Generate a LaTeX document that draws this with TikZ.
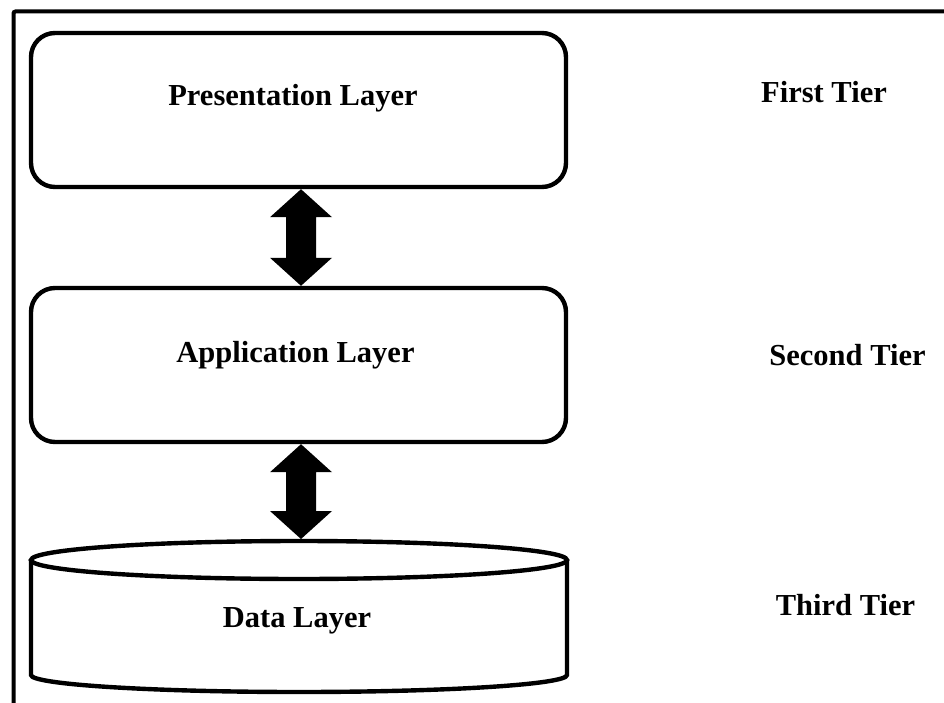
\documentclass[tikz,border=0pt]{standalone}
\usepackage{fontspec}
\setmainfont{Liberation Serif}
\usetikzlibrary{calc}
\tikzset{
  ln/.style={line width=4.4pt},
  layerbox/.style={ln, draw, rounded corners=24pt, minimum width=535pt, minimum height=154pt, inner sep=0pt},
  lbl/.style={font=\bfseries\fontsize{30.5}{36}\selectfont, inner sep=0pt, anchor=base},
}
\begin{document}
\begin{tikzpicture}[x=1pt,y=-1pt]
\useasboundingbox (0,0) rectangle (944,703);
\clip (0,0) rectangle (944,703);
\fill[white] (0,0) rectangle (944,703);
% outer frame (cut off right and bottom)
\draw[line width=4pt, rounded corners=2pt] (13.5,720) -- (13.5,11.5) -- (960,11.5);
% boxes
\node[layerbox] (p) at (298.5,110) {};
\node[layerbox] (a) at (298.5,365) {};
% cylinder
\draw[ln] (31,560) -- (31,675) arc[start angle=180, end angle=360, x radius=268pt, y radius=17pt] -- (567,560);
\draw[ln] (299,560) ellipse [x radius=268pt, y radius=19pt];
\coordinate (dtop) at (301,539);
% labels
\node[lbl] (pt) at (293,106) {Presentation Layer};
\node[lbl] (at) at (295.5,362) {Application Layer};
\node[lbl] (dl) at (297,627) {Data Layer};
\node[lbl] (t1) at (824,102.5) {First Tier};
\node[lbl] (t2) at (847.5,365) {Second Tier};
\node[lbl] (t3) at (845.5,615) {Third Tier};
% double arrows
\fill let \p1=([xshift=2.5pt]p.south), \p2=([xshift=2.5pt]a.north) in
  (\x1,\y1) -- (\x1+31pt,\y1-28pt) -- (\x1+15pt,\y1-28pt) -- (\x2+15pt,\y2+28pt)
  -- (\x2+31pt,\y2+28pt) -- (\x2,\y2) -- (\x2-31pt,\y2+28pt) -- (\x2-15pt,\y2+28pt)
  -- (\x1-15pt,\y1-28pt) -- (\x1-31pt,\y1-28pt) -- cycle;
\fill let \p1=([xshift=2.5pt]a.south), \p2=(dtop) in
  (\x1,\y1) -- (\x1+31pt,\y1-28pt) -- (\x1+15pt,\y1-28pt) -- (\x2+15pt,\y2+28pt)
  -- (\x2+31pt,\y2+28pt) -- (\x2,\y2) -- (\x2-31pt,\y2+28pt) -- (\x2-15pt,\y2+28pt)
  -- (\x1-15pt,\y1-28pt) -- (\x1-31pt,\y1-28pt) -- cycle;
\end{tikzpicture}
\end{document}
